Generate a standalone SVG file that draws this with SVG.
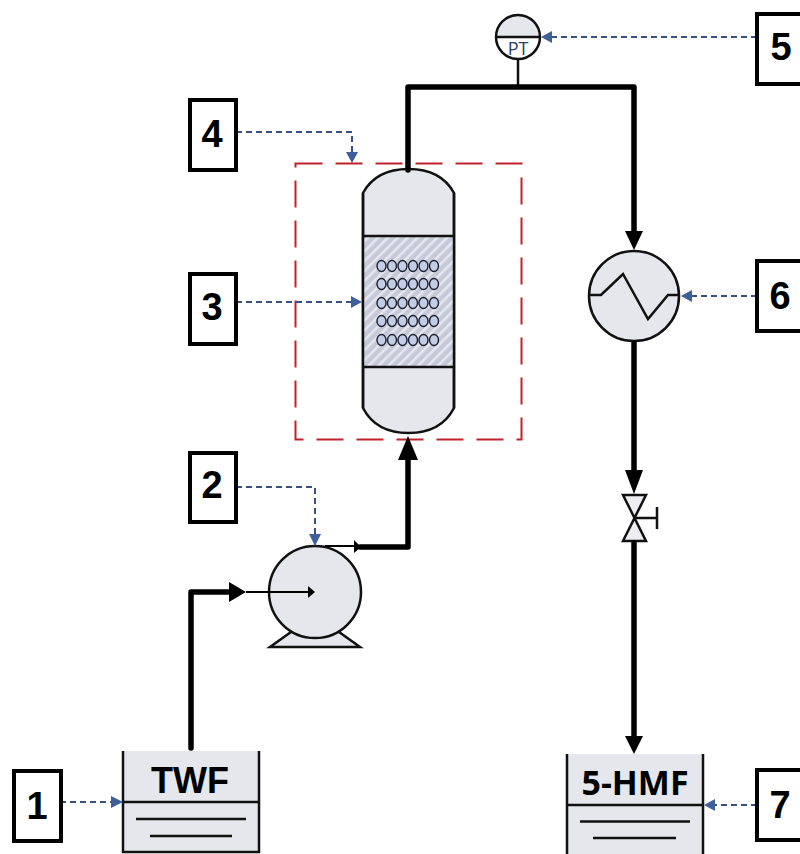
<svg xmlns="http://www.w3.org/2000/svg" width="800" height="854" viewBox="0 0 800 854">
<style>
.f{fill:#e6e7ec;stroke:#111;stroke-width:2.5}
.t{fill:none;stroke:#111;stroke-width:2.5}
.p{fill:none;stroke:#000;stroke-width:5.500;stroke-linejoin:round;stroke-linecap:round}
.n{fill:none;stroke:#000;stroke-width:2}
.d{fill:none;stroke:#3a5080;stroke-width:2;stroke-dasharray:6 4}
.ah{fill:#3f5f98;stroke:none}
.k{fill:#000;stroke:none}
.b{fill:#fff;stroke:#000;stroke-width:4}
.l{font-family:"Liberation Sans",Arial,sans-serif;font-weight:700;font-size:38px;fill:#000;text-anchor:middle}
.c{fill:#c3cde3;stroke:#1a2030;stroke-width:1.4}
</style>
<defs>
<pattern id="hatch" width="7" height="7" patternUnits="userSpaceOnUse" patternTransform="rotate(45)">
<rect width="7" height="7" fill="#c6cad8"/>
<rect width="2.500" height="7" fill="#e6e8ef"/>
</pattern>
</defs>
<rect x="295.500" y="163.500" width="226" height="276" fill="none" stroke="#c0222c" stroke-width="2" stroke-dasharray="27 13"/>
<g id="tank-twf">
<rect x="123" y="751" width="136" height="101" fill="#e6e7ec"/>
<path class="t" d="M123 751V852H259V751M123 802H259M136 819H246M150 836H232"/>
<text x="190" y="793" font-family="'Liberation Sans',Arial,sans-serif" font-weight="700" font-size="36" text-anchor="middle">TWF</text>
</g>
<g id="tank-hmf">
<rect x="567" y="754" width="136" height="100" fill="#e6e7ec"/>
<path class="t" d="M567 754V854M703 754V854M567 805H703M580 821.500H690M593 838H676"/>
<text x="635" y="795" font-family="'Open Sans','Liberation Sans',sans-serif" font-weight="700" font-size="34" text-anchor="middle">5-HMF</text>
</g>
<g id="pump">
<path class="f" d="M291 632L270 647H360L339 632Z"/>
<circle class="f" cx="315" cy="592" r="46"/>
</g>
<g id="reactor">
<path class="f" d="M363 193Q376 169 408.500 169Q441 169 454 193V408Q441 433 408.500 433Q376 433 363 408Z"/>
<rect x="363" y="236" width="91" height="131" fill="url(#hatch)"/>
<path class="t" d="M363 193V408M454 193V408M363 236H454M363 367H454"/>
<g class="c">
<ellipse cx="381.500" cy="266" rx="4.500" ry="5.500"/><ellipse cx="392" cy="266" rx="4.500" ry="5.500"/><ellipse cx="402.500" cy="266" rx="4.500" ry="5.500"/><ellipse cx="413" cy="266" rx="4.500" ry="5.500"/><ellipse cx="423.500" cy="266" rx="4.500" ry="5.500"/><ellipse cx="434" cy="266" rx="4.500" ry="5.500"/>
<ellipse cx="381.500" cy="284" rx="4.500" ry="5.500"/><ellipse cx="392" cy="284" rx="4.500" ry="5.500"/><ellipse cx="402.500" cy="284" rx="4.500" ry="5.500"/><ellipse cx="413" cy="284" rx="4.500" ry="5.500"/><ellipse cx="423.500" cy="284" rx="4.500" ry="5.500"/><ellipse cx="434" cy="284" rx="4.500" ry="5.500"/>
<ellipse cx="381.500" cy="303" rx="4.500" ry="5.500"/><ellipse cx="392" cy="303" rx="4.500" ry="5.500"/><ellipse cx="402.500" cy="303" rx="4.500" ry="5.500"/><ellipse cx="413" cy="303" rx="4.500" ry="5.500"/><ellipse cx="423.500" cy="303" rx="4.500" ry="5.500"/><ellipse cx="434" cy="303" rx="4.500" ry="5.500"/>
<ellipse cx="381.500" cy="321" rx="4.500" ry="5.500"/><ellipse cx="392" cy="321" rx="4.500" ry="5.500"/><ellipse cx="402.500" cy="321" rx="4.500" ry="5.500"/><ellipse cx="413" cy="321" rx="4.500" ry="5.500"/><ellipse cx="423.500" cy="321" rx="4.500" ry="5.500"/><ellipse cx="434" cy="321" rx="4.500" ry="5.500"/>
<ellipse cx="381.500" cy="340" rx="4.500" ry="5.500"/><ellipse cx="392" cy="340" rx="4.500" ry="5.500"/><ellipse cx="402.500" cy="340" rx="4.500" ry="5.500"/><ellipse cx="413" cy="340" rx="4.500" ry="5.500"/><ellipse cx="423.500" cy="340" rx="4.500" ry="5.500"/><ellipse cx="434" cy="340" rx="4.500" ry="5.500"/>
</g>
</g>
<g id="heat-exchanger">
<circle class="f" cx="634" cy="296" r="45"/>
<path class="t" d="M589 295H601L623 274L648 319L668 295H680"/>
</g>
<g id="valve">
<path d="M623 495H646L623 541H646Z" fill="#eeeef2" stroke="#111" stroke-width="2.500"/>
<path class="t" d="M634 518H657M657 507V529"/>
</g>
<g id="pt">
<path d="M496 37A22 22 0 0 1 540 37Z" fill="#e6e7ec"/>
<circle cx="518" cy="37" r="22" fill="none" stroke="#111" stroke-width="2.500"/>
<path class="t" d="M496 37H540M518 59V85"/>
<text x="518" y="55" font-family="'Open Sans','Liberation Sans',sans-serif" font-size="18" fill="#2e3f5c" text-anchor="middle">PT</text>
</g>
<g id="connectors">
<path class="p" d="M191 748V592H232"/>
<path class="k" d="M229 582L246 592L229 602Z"/>
<path class="n" d="M246 592H310"/>
<path class="k" d="M308 586L315 592L308 598Z"/>
<path class="n" d="M325 546H356"/>
<path class="k" d="M354 540L361 547L354 553Z"/>
<path class="p" d="M360 547H408V458"/>
<path class="k" d="M398 460L408 436L418 460Z"/>
<path class="p" d="M408 170V87H634V234"/>
<path class="k" d="M625 231L634 250L643 231Z"/>
<path class="p" d="M634 343V472"/>
<path class="k" d="M625 470L634 494L643 470Z"/>
<path class="p" d="M634 543V735"/>
<path class="k" d="M625 736L634 754L643 736Z"/>
<path class="d" d="M60 802H113"/><path class="ah" d="M111 796L123 802L111 808Z"/>
<path class="d" d="M236 487H315V536"/><path class="ah" d="M309 534L321 534L315 546Z"/>
<path class="d" d="M236 302H352"/><path class="ah" d="M351 296L362 302L351 308Z"/>
<path class="d" d="M236 132H352V153"/><path class="ah" d="M346 152L358 152L352 163Z"/>
<path class="d" d="M757 37H552"/><path class="ah" d="M552 31L541 37L552 43Z"/>
<path class="d" d="M757 296H692"/><path class="ah" d="M692 290L681 296L692 302Z"/>
<path class="d" d="M757 805H715"/><path class="ah" d="M715 799L704 805L715 811Z"/>
</g>
<g id="label-1"><rect class="b" x="14" y="771" width="47" height="70"/><text class="l" x="37" y="819">1</text></g>
<g id="label-2"><rect class="b" x="190" y="453" width="46" height="69"/><text class="l" x="212" y="498">2</text></g>
<g id="label-3"><rect class="b" x="190" y="274" width="46" height="70"/><text class="l" x="212" y="320">3</text></g>
<g id="label-4"><rect class="b" x="190" y="100" width="46" height="70"/><text class="l" x="212" y="147">4</text></g>
<g id="label-5"><rect class="b" x="757" y="14" width="50" height="70"/><text class="l" x="781" y="60">5</text></g>
<g id="label-6"><rect class="b" x="757" y="261" width="50" height="70"/><text class="l" x="780" y="309">6</text></g>
<g id="label-7"><rect class="b" x="757" y="770" width="50" height="70"/><text class="l" x="780" y="818">7</text></g>
</svg>
